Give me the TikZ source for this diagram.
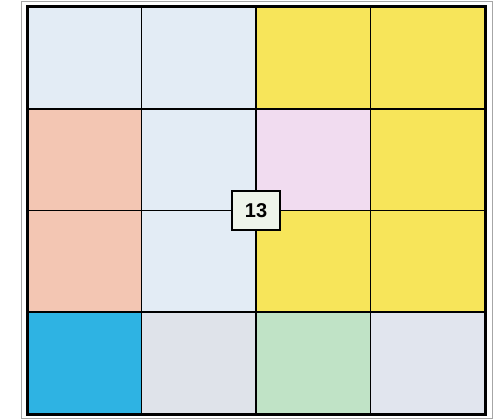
\documentclass[tikz,border=0pt]{standalone}
\usepackage{fontspec}
\setmainfont{Liberation Sans}
\definecolor{lblue}{HTML}{E3ECF5}
\definecolor{cyel}{HTML}{F7E55A}
\definecolor{csal}{HTML}{F3C6B3}
\definecolor{cpink}{HTML}{F1DCF0}
\definecolor{cgreen}{HTML}{C0E3C6}
\definecolor{cgrey}{HTML}{DFE3EA}
\definecolor{cgreyb}{HTML}{E1E5EE}
\definecolor{cblue}{HTML}{2EB3E3}
\definecolor{lab}{HTML}{EEF4EA}
\begin{document}
\begin{tikzpicture}[x=1pt,y=-1pt,
  cell/.style={minimum width=114.5pt, minimum height=101.75pt, inner sep=0pt, outer sep=0pt},
  gridline/.style={black, line width=1.8pt},
  labelbox/.style={draw=black, line width=1.6pt, fill=lab, minimum width=48pt, minimum height=39pt, inner sep=0pt, font=\bfseries\fontsize{20}{22}\selectfont}]
\useasboundingbox[fill=white] (0,0) rectangle (495,420);
\draw[gray!70, line width=0.8pt] (21,1) rectangle (492,418);
\node[cell, fill=lblue] (c11) at (84.25,57.875) {};
\node[cell, fill=lblue] (c12) at (198.75,57.875) {};
\node[cell, fill=cyel] (c13) at (313.25,57.875) {};
\node[cell, fill=cyel] (c14) at (427.75,57.875) {};
\node[cell, fill=csal] (c21) at (84.25,159.625) {};
\node[cell, fill=lblue] (c22) at (198.75,159.625) {};
\node[cell, fill=cpink] (c23) at (313.25,159.625) {};
\node[cell, fill=cyel] (c24) at (427.75,159.625) {};
\node[cell, fill=csal] (c31) at (84.25,261.375) {};
\node[cell, fill=lblue] (c32) at (198.75,261.375) {};
\node[cell, fill=cyel] (c33) at (313.25,261.375) {};
\node[cell, fill=cyel] (c34) at (427.75,261.375) {};
\node[cell, fill=cblue] (c41) at (84.25,363.125) {};
\node[cell, fill=cgrey] (c42) at (198.75,363.125) {};
\node[cell, fill=cgreen] (c43) at (313.25,363.125) {};
\node[cell, fill=cgreyb] (c44) at (427.75,363.125) {};
% inner grid lines
\draw[gridline] (c11.north east) -- (c41.south east);
\draw[gridline] (c12.north east) -- (c42.south east);
\draw[gridline] (c13.north east) -- (c43.south east);
\draw[gridline] (c11.south west) -- (c14.south east);
\draw[gridline] (c21.south west) -- (c24.south east);
\draw[gridline] (c31.south west) -- (c34.south east);
\draw[black, line width=3pt] (c11.north west) rectangle (c44.south east);
\node[labelbox] (n13) at (c22.south east) {13};
\end{tikzpicture}
\end{document}
